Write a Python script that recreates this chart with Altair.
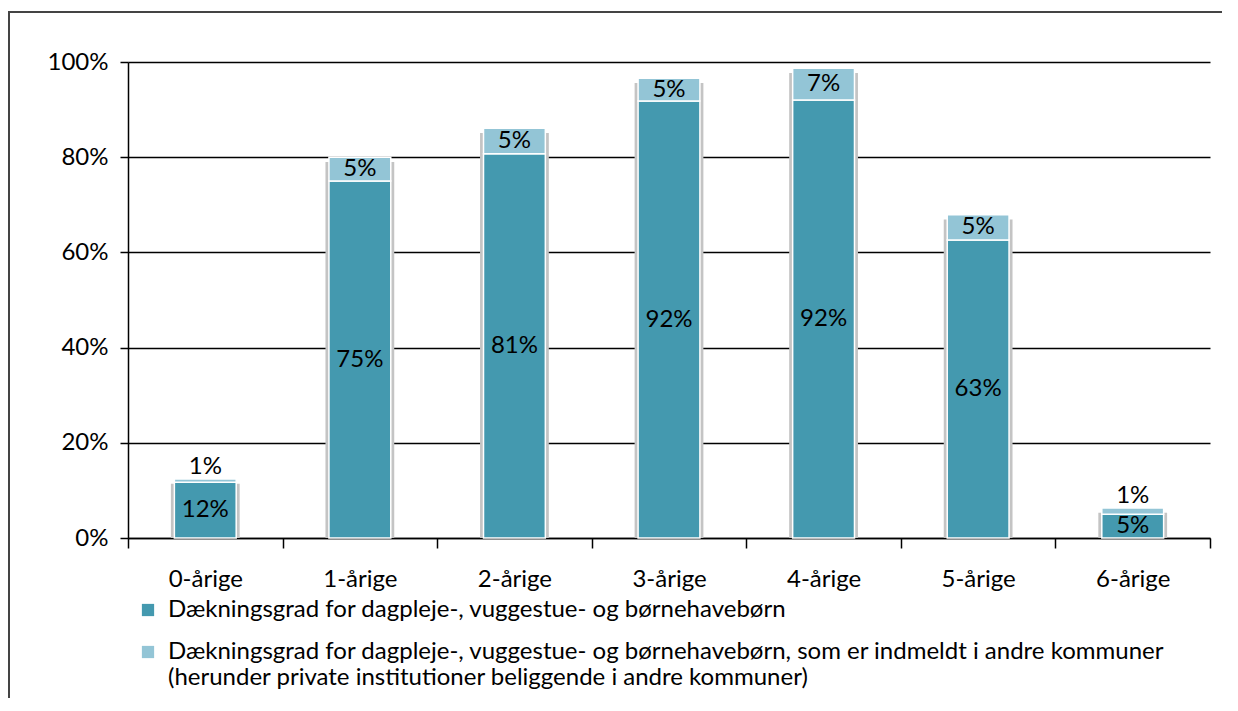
import altair as alt
import pandas as pd

categories = ["0-årige", "1-årige", "2-årige", "3-årige", "4-årige", "5-årige", "6-årige"]
own_values = [11.7, 75.0, 80.7, 91.8, 92.0, 62.6, 5.0]
other_values = [0.7, 5.0, 5.4, 4.8, 6.7, 5.3, 1.3]
y_ticks = [0, 20, 40, 60, 80, 100]

S1 = "Dækningsgrad for dagpleje-, vuggestue- og børnehavebørn"
S2 = ("Dækningsgrad for dagpleje-, vuggestue- og børnehavebørn, som er indmeldt i andre kommuner"
      "|(herunder private institutioner beliggende i andre kommuner)")
C1 = "#4499AF"
C2 = "#93C5D6"
FONT = "Lato"
FS = 24

rows = []
for c, a, b in zip(categories, own_values, other_values):
    rows.append(dict(cat=c, series=S1, start=0, end=a, labely=a / 2,
                     label=f"{round(a)}%", total=a + b))
    top = a + b
    ly = a + b / 2 if b >= 3 else top + 2.5
    rows.append(dict(cat=c, series=S2, start=a, end=top, labely=ly,
                     label=f"{round(b)}%", total=top))
df = pd.DataFrame(rows)
tot = df[df.series == S1].copy()
tot["shadow_top"] = tot["total"] - 1.0

W, H = 1082, 476

x_enc = alt.X("cat:N", sort=categories, title=None,
              scale=alt.Scale(paddingInner=0, paddingOuter=0),
              axis=alt.Axis(labelAngle=0, labelFont=FONT, labelFontSize=FS, labelColor="black",
                            tickBand="extent", tickSize=10, tickColor="black", tickWidth=1.5,
                            domainColor="black", domainWidth=1.5, labelPadding=19, grid=False))
y_scale = alt.Scale(domain=[0, 100], nice=False)

shadow = alt.Chart(tot).mark_bar(color="#c4c4c4", width=alt.RelativeBandSize(0.445)).encode(
    x=x_enc,
    y=alt.Y("start:Q", scale=y_scale, title=None,
            axis=alt.Axis(values=y_ticks, labelExpr="datum.value + '%'", labelFont=FONT,
                          labelFontSize=FS, labelColor="black", tickSize=8, tickColor="black",
                          tickWidth=1.5, domainColor="black", domainWidth=1.5, gridColor="black",
                          gridWidth=1.5, grid=True, labelPadding=12)),
    y2="shadow_top:Q",
)

bars = alt.Chart(df).mark_bar(width=alt.RelativeBandSize(0.40), stroke="white", strokeWidth=1.5).encode(
    x=alt.X("cat:N", sort=categories),
    y=alt.Y("start:Q", scale=y_scale),
    y2="end:Q",
    color=alt.Color("series:N", scale=alt.Scale(domain=[S1, S2], range=[C1, C2]),
                    legend=alt.Legend(title=None, orient="none", legendX=8, legendY=536,
                                      direction="vertical", labelFont=FONT, labelFontSize=FS,
                                      labelColor="black", labelLimit=1200,
                                      labelExpr="split(datum.label, '|')",
                                      symbolType="square", symbolSize=150, symbolStrokeWidth=0,
                                      rowPadding=18, labelOffset=8)),
)

labels = alt.Chart(df).mark_text(font=FONT, fontSize=FS, color="black", baseline="middle").encode(
    x=alt.X("cat:N", sort=categories),
    y=alt.Y("labely:Q", scale=y_scale),
    text="label:N",
)

edge = pd.DataFrame({"k": [0]})
top_line = alt.Chart(edge).mark_rule(stroke="#444444", strokeWidth=2).encode(
    x=alt.value(-120), x2=alt.value(W + 12), y=alt.value(-50), y2=alt.value(-50))
left_line = alt.Chart(edge).mark_rule(stroke="#444444", strokeWidth=2).encode(
    x=alt.value(-119), x2=alt.value(-119), y=alt.value(-51), y2=alt.value(H + 160))

chart = alt.layer(top_line, left_line, shadow, bars, labels).properties(
    width=W, height=H,
    autosize=alt.AutoSizeParams(type="none"),
    padding={"left": 120, "top": 54, "right": 12, "bottom": 160},
).configure_view(stroke=None).configure_text(lineHeight=34)

chart.save("out.html", embed_options={"renderer": "svg", "actions": False})
